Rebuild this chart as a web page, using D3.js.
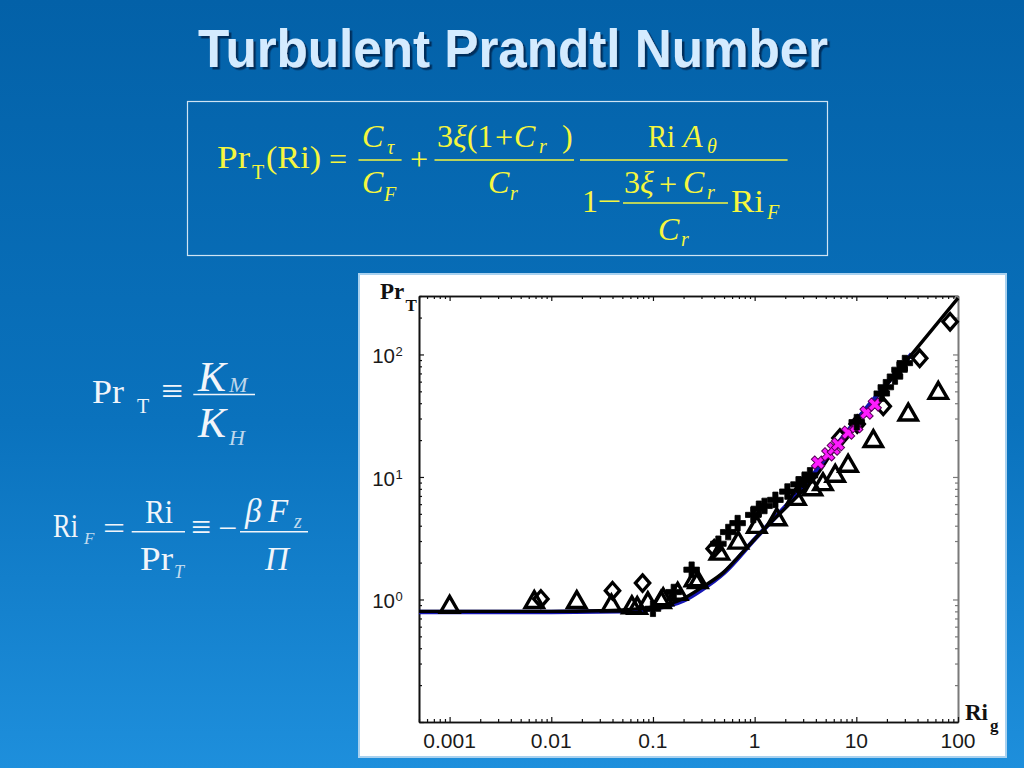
<!DOCTYPE html>
<html><head><meta charset="utf-8">
<script src="https://cdn.jsdelivr.net/npm/d3@7"></script>
<style>html,body{margin:0;padding:0;background:#0a6bb5;} svg{display:block}</style>
</head><body><svg id="c" width="1024" height="768"></svg>
<script>
// ---------------- data ----------------
const title = "Turbulent Prandtl Number";
// model curve (black)
const curveRi = [0.0005, 0.01, 0.03, 0.06, 0.1, 0.15, 0.2, 0.3, 0.5, 0.7, 1, 1.3, 1.8, 2.6, 3.8, 7, 10, 20, 50, 100];
const curvePr = [0.80, 0.80, 0.81, 0.83, 0.87, 0.93, 1.02, 1.25, 1.68, 2.25, 3.1, 3.9, 5.1, 6.9, 9.6, 20, 28.5, 57, 143, 288];
// second curve (blue)
const blueRi = [0.0005, 0.01, 0.05, 0.1, 0.2, 0.3, 0.5, 1, 3, 10, 20, 35];
const bluePr = [0.79, 0.79, 0.80, 0.84, 0.98, 1.2, 1.65, 3.1, 8.3, 29, 58, 101];
// data: triangles
const triRi = [0.001, 0.0068, 0.0178, 0.039, 0.062, 0.07, 0.089, 0.12, 0.126, 0.175, 0.256, 0.277, 0.45, 0.69, 1.05, 1.65, 2.55, 3.7, 4.7, 6.2, 8.3, 14.7, 32.4, 64];
const triPr = [0.87, 0.95, 0.95, 0.89, 0.86, 0.85, 0.93, 0.95, 1.0, 1.11, 1.43, 1.38, 2.36, 2.9, 3.9, 4.5, 6.6, 7.9, 8.7, 10.2, 12.3, 19.6, 32.2, 48.4];
// data: diamonds
const diaRi = [0.0079, 0.040, 0.079, 0.40, 6.9, 10.2, 18.4, 42, 83.6];
const diaPr = [1.01, 1.18, 1.36, 2.6, 20.8, 27, 37.7, 93, 185];
// data: black crosses
const plusRi = [0.10, 0.16, 0.24, 0.44, 0.55, 0.68, 0.97, 1.1, 1.25, 1.6, 2.1, 2.7, 3.1, 3.5, 10.1, 17.8, 19.5, 24, 26.6, 30];
const plusPr = [0.84, 1.15, 1.75, 2.85, 3.55, 4.2, 4.9, 5.5, 5.8, 6.5, 7.6, 8.7, 9.5, 10.3, 28, 48, 54, 66, 75, 85];
// data: magenta crosses
const magRi = [4.2, 5.3, 6.0, 6.6, 8.3, 10, 12.6, 15.2];
const magPr = [13.1, 15.3, 17, 18.5, 23, 26, 33.5, 39];
// ticks
const xTickValues = [0.001, 0.01, 0.1, 1, 10, 100];
const xTickLabels = ["0.001", "0.01", "0.1", "1", "10", "100"];
const yTickValues = [1, 10, 100];
const yTickExps = ["0", "1", "2"];

// ---------------- drawing ----------------
const svg = d3.select("#c");
const defs = svg.append("defs");
const grad = defs.append("linearGradient").attr("id","bg").attr("x1",0).attr("y1",0).attr("x2",0).attr("y2",1);
grad.append("stop").attr("offset","0%").attr("stop-color","#0361a8");
grad.append("stop").attr("offset","55%").attr("stop-color","#0a72bd");
grad.append("stop").attr("offset","100%").attr("stop-color","#1e8fdc");
const flt = defs.append("filter").attr("id","sh").attr("x","-5%").attr("y","-20%").attr("width","110%").attr("height","150%");
flt.append("feDropShadow").attr("dx",2.5).attr("dy",2.5).attr("stdDeviation",0.6).attr("flood-color","#062f5c").attr("flood-opacity",1);
svg.append("rect").attr("width",1024).attr("height",768).attr("fill","url(#bg)");

// title
svg.append("text").attr("x",198).attr("y",67).attr("font-family","'Liberation Sans',Arial,sans-serif")
  .attr("font-weight","bold").attr("font-size",53).attr("textLength",630).attr("lengthAdjust","spacingAndGlyphs")
  .attr("fill","#d4ebff").attr("filter","url(#sh)").text(title);

const SERIF = "'Liberation Serif','Times New Roman',serif";
const YEL = "#f6f63e", WH = "#f1f5fa";
function T(x, y, str, o = {}) {
  const t = svg.append("text").attr("x", x).attr("y", y).text(str)
    .attr("font-family", o.ff || SERIF).attr("font-size", o.fs || 32).attr("fill", o.fill || YEL);
  if (o.it) t.attr("font-style", "italic");
  if (o.bold) t.attr("font-weight", "bold");
  if (o.anchor) t.attr("text-anchor", o.anchor);
  if (o.tl) t.attr("textLength", o.tl).attr("lengthAdjust", "spacingAndGlyphs");
  if (o.op) t.attr("fill-opacity", o.op);
  return t;
}
function bar(x1, x2, yy, col) {
  svg.append("line").attr("x1",x1).attr("x2",x2).attr("y1",yy).attr("y2",yy).attr("stroke",col||YEL).attr("stroke-width",1.5);
}

// formula box
svg.append("rect").attr("x",187.5).attr("y",101.5).attr("width",640).attr("height",154)
  .attr("fill","none").attr("stroke","#cfe4f4").attr("stroke-width",1.2);
T(217,168,"Pr",{tl:33});
T(252,179,"T",{fs:20});
T(266,168,"(Ri)",{tl:55});
T(338,170,"=",{anchor:"middle"});
bar(358.5,401.6,160);
T(362,146.7,"C",{it:1}); T(387,154,"τ",{it:1,fs:20});
T(362,193,"C",{it:1}); T(384,201,"F",{it:1,fs:20});
T(419,170,"+",{anchor:"middle"});
bar(434.5,574,160);
T(437,146.7,"3"); T(453,146.7,"ξ",{it:1}); T(467,146.7,"(1",{tl:26}); T(504,148,"+",{anchor:"middle"});
T(514,146.7,"C",{it:1}); T(539,153,"r",{it:1,fs:20}); T(562,146.7,")");
T(488,193,"C",{it:1}); T(510,200,"r",{it:1,fs:20});
bar(580,787.6,160);
T(648,146.7,"Ri",{tl:27}); T(683,146.7,"A",{it:1}); T(707,153,"θ",{it:1,fs:20});
T(582,212,"1"); T(597,212,"−",{tl:24});
T(624,193,"3"); T(640,193,"ξ",{it:1}); T(668,195,"+",{anchor:"middle"}); T(683,193,"C",{it:1}); T(707,199,"r",{it:1,fs:20});
bar(623,728,203);
T(658,240,"C",{it:1}); T(681,246,"r",{it:1,fs:20});
T(731,212,"Ri",{tl:33}); T(767,219,"F",{it:1,fs:20});

// left formulas
T(92,403,"Pr",{fill:WH,fs:33,tl:32});
T(137,413,"T",{fill:WH,fs:20});
T(161,403,"≡",{fill:WH,fs:36,tl:22});
T(198,391,"K",{fill:WH,fs:42,it:1}); T(229,392,"M",{fill:WH,fs:22,it:1,op:0.8});
bar(193.3,255,394.5,WH);
T(198,437,"K",{fill:WH,fs:42,it:1}); T(229,445,"H",{fill:WH,fs:22,it:1,op:0.8});

T(53,537,"Ri",{fill:WH,fs:33,tl:25});
T(84,544,"F",{fill:WH,fs:17,it:1,op:0.8});
T(103,539,"=",{fill:WH,fs:32,tl:22});
T(145,523,"Ri",{fill:WH,fs:33,tl:28});
bar(131.7,185,531.7,WH);
T(140,570,"Pr",{fill:WH,fs:33,tl:33});
T(174,578,"T",{fill:WH,fs:18,it:1,op:0.8});
T(191,539,"≡",{fill:WH,fs:36,tl:20});
T(218,539,"−",{fill:WH,fs:32,tl:19});
T(245,521.7,"β",{fill:WH,fs:33,it:1});
T(268,521.7,"F",{fill:WH,fs:33,it:1});
T(294,528,"z",{fill:WH,fs:20,it:1,op:0.8});
bar(240,308,531.7,WH);
T(265,570,"Π",{fill:WH,fs:33,it:1});

// chart panel
svg.append("rect").attr("x",359).attr("y",274).attr("width",647).attr("height",483)
  .attr("fill","#ffffff").attr("stroke","#a9d1ef").attr("stroke-width",2);

const x = d3.scaleLog().domain([0.0005, 100]).range([419, 958]);
const y = d3.scaleLog().domain([0.1, 300]).range([722, 296]);
const isMajor = v => Math.abs(Math.log10(v) - Math.round(Math.log10(v))) < 1e-9;
const xAll = x.ticks(), yAll = y.ticks();
const xMaj = xAll.filter(isMajor), xMin = xAll.filter(v => !isMajor(v));
const yMaj = yAll.filter(isMajor), yMin = yAll.filter(v => !isMajor(v));

function ax(gen, tr, vals, size, col) {
  const g = svg.append("g").attr("transform", tr)
    .call(gen.tickValues(vals).tickSize(size).tickSizeOuter(0).tickFormat(""));
  g.selectAll("line").attr("stroke", col).attr("stroke-width", 1.2);
  g.select(".domain").attr("stroke", col).attr("stroke-width", 1.6);
  return g;
}
ax(d3.axisTop(x), "translate(0,296)", xMin, -3, "#111");
ax(d3.axisTop(x), "translate(0,296)", xMaj, -5, "#111");
ax(d3.axisRight(y), "translate(958,0)", yMin, -3, "#7a7a7a");
ax(d3.axisRight(y), "translate(958,0)", yMaj, -5, "#7a7a7a");
ax(d3.axisBottom(x), "translate(0,722)", xMin, -3, "#111");
ax(d3.axisBottom(x), "translate(0,722)", xMaj, -5, "#111");
ax(d3.axisLeft(y), "translate(419,0)", yMin, -3, "#111");
ax(d3.axisLeft(y), "translate(419,0)", yMaj, -5, "#111");

const SANS = "'Liberation Sans',Arial,sans-serif";
xTickValues.forEach((v, i) => {
  svg.append("text").attr("x", x(v)).attr("y", 748).attr("text-anchor","middle")
    .attr("font-family", SANS).attr("font-size", 21).attr("fill","#1a1a1a").text(xTickLabels[i]);
});
yTickValues.forEach((v, i) => {
  svg.append("text").attr("x", 395).attr("y", y(v) + 9).attr("text-anchor","end")
    .attr("font-family", SANS).attr("font-size", 20.5).attr("fill","#1a1a1a").text("10");
  svg.append("text").attr("x", 395.5).attr("y", y(v) + 2).attr("font-family", SANS)
    .attr("font-size", 13).attr("fill","#1a1a1a").text(yTickExps[i]);
});
// axis titles
T(380,299,"Pr",{fill:"#111",fs:23,bold:1});
T(405.5,311,"T",{fill:"#111",fs:17,bold:1});
T(965,720,"Ri",{fill:"#111",fs:23,bold:1});
T(990,731,"g",{fill:"#111",fs:17,bold:1});

// curves
const zip = (a, b) => a.map((v, i) => [v, b[i]]);
const line = d3.line().x(d => x(d[0])).y(d => y(d[1])).curve(d3.curveMonotoneX);
const blue = zip(blueRi, bluePr);
svg.append("path").attr("d", line(blue)).attr("fill","none").attr("stroke","#1616b4").attr("stroke-width",4.5);
svg.append("path").attr("d", line(zip(curveRi, curvePr))).attr("fill","none").attr("stroke","#000").attr("stroke-width",3.4);
svg.append("path").attr("d", line(blue.filter(d => d[0] >= 3 && d[0] <= 30))).attr("fill","none").attr("stroke","#1616b4").attr("stroke-width",3.5);

// markers
const diamondSym = { draw(ctx, size) { const s = Math.sqrt(size); const w = s*0.55, h = s*0.63;
  ctx.moveTo(0,-h); ctx.lineTo(w,0); ctx.lineTo(0,h); ctx.lineTo(-w,0); ctx.closePath(); } };
function pts(ri, pr, type, size, fill, stroke, sw, rot) {
  svg.append("g").selectAll("path").data(zip(ri, pr)).join("path")
    .attr("d", d3.symbol().type(type).size(size)())
    .attr("transform", d => `translate(${x(d[0])},${y(d[1])})` + (rot ? ` rotate(${rot})` : ""))
    .attr("fill", fill).attr("stroke", stroke).attr("stroke-width", sw).attr("stroke-linejoin","miter");
}
pts(triRi, triPr, d3.symbolTriangle, 145, "none", "#000", 3.4);
pts(diaRi, diaPr, diamondSym, 170, "none", "#000", 3.3);
pts(magRi, magPr, d3.symbolCross, 110, "#ff1cff", "#5a005a", 1, 45);
pts(plusRi, plusPr, d3.symbolCross, 135, "#000", "#000", 0.8);
</script></body></html>
